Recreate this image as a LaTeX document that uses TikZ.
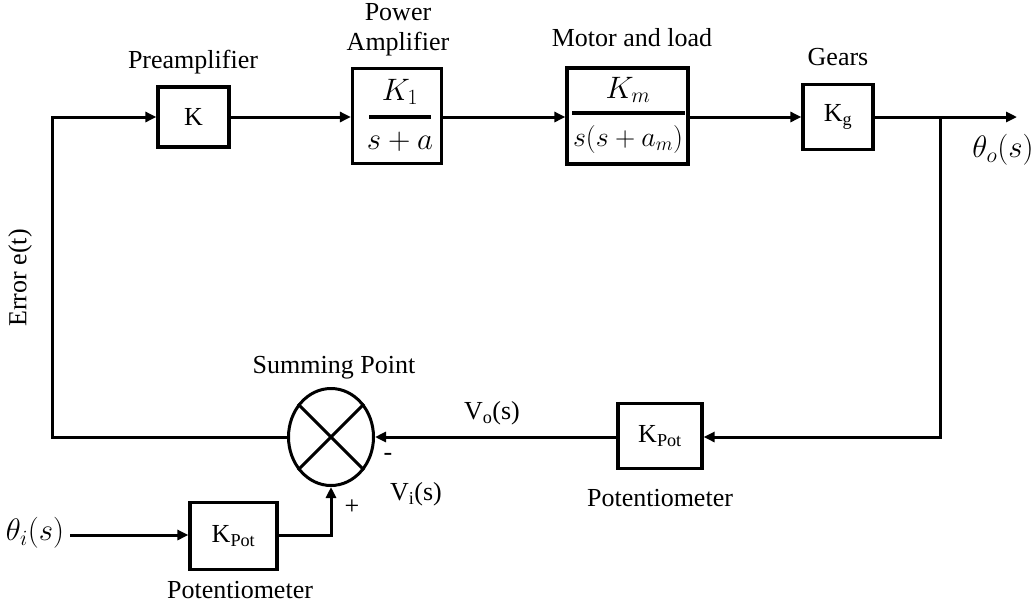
\RequirePackage{fix-cm}
\documentclass[tikz,border=0pt]{standalone}
\usepackage{fontspec}
\setmainfont{Liberation Serif}
\usetikzlibrary{arrows.meta,shapes.geometric}
\begin{document}
\begin{tikzpicture}[x=1pt,y=-1pt,
  every node/.style={font=\fontsize{26}{30}\selectfont, inner sep=0pt},
  mth/.style={font=\fontsize{31}{36}\selectfont},
  mths/.style={font=\fontsize{28}{33}\selectfont},
  blk/.style={draw, line width=3.2pt, minimum width=#1},
  lbl/.style={anchor=center},
  wire/.style={line width=3pt},
  arr/.style={wire, -{Triangle[length=11pt,width=10pt]}},
  frule/.style={line width=3.4pt}
]
\useasboundingbox (0,0) rectangle (1036,606);

% top blocks
\node[blk=71pt, minimum height=60pt] (pre) at (193.5,117) {K};
\node[blk=89pt, minimum height=95pt] (pow) at (397,116) {};
\node[blk=121pt, minimum height=96pt] (mot) at (627.5,116) {};
\node[blk=70pt, minimum height=65pt] (gear) at (838,117) {K\textsubscript{g}};

% fractions
\node[mth] (pownum) at (400,92) {$K_1$};
\draw[frule] (369,117) -- (431,117);
\node[mth] (powden) at (400,142) {$s+a$};
\node[mth] (motnum) at (628,90) {$K_m$};
\draw[frule] (572,113) -- (685,113);
\node[mths] (motden) at (628,139) {$s(s+a_m)$};

% feedback and input blocks
\node[blk=84pt, minimum height=65pt] (kfb) at (660,436) {K\textsubscript{Pot}};
\node[blk=87pt, minimum height=67pt] (kin) at (233.5,536) {K\textsubscript{Pot}};
\node[draw, ellipse, line width=3pt, minimum width=85pt, minimum height=97pt] (sum) at (331,437) {};
\draw[wire] (sum.45) -- (sum.225);
\draw[wire] (sum.135) -- (sum.315);

% coordinates
\coordinate (out) at (1017,117);
\coordinate (br) at (940,117);
\coordinate (brd) at (940,437);
\coordinate (el) at (52,437);
\coordinate (eu) at (52,117);
\coordinate (tin) at (70,535);
\coordinate (up) at (331,535);

% connectors
\draw[arr] (pre.east) -- (pre.east -| pow.west);
\draw[arr] (pow.east |- pre.east) -- (pow.east |- pre.east -| mot.west);
\draw[arr] (mot.east |- gear.west) -- (gear.west);
\draw[arr] (gear.east) -- (out);
\draw[arr] (br) -- (brd) -- (brd -| kfb.east);
\draw[arr] (kfb.west |- sum.east) -- (sum.east);
\draw[arr] (sum.west) -- (el) -- (eu) -- (eu -| pre.west);
\draw[arr] (tin) -- (tin -| kin.west);
\draw[arr] (kin.east |- up) -- (up) -- (sum.south);

% labels
\node[lbl] (lpre) at (193,62) {Preamplifier};
\node[lbl, align=center] (lpow) at (398,30) {Power\\Amplifier};
\node[lbl] (lmot) at (632,38) {Motor and load};
\node[lbl] (lgear) at (838,57) {Gears};
\node[lbl] (lsum) at (334,368) {Summing Point};
\node[lbl] (lvo) at (492,413) {V\textsubscript{o}(s)};
\node[lbl] (lminus) at (388,457) {-};
\node[lbl] (lvi) at (416,494) {V\textsubscript{i}(s)};
\node[lbl] (lplus) at (352,507) {+};
\node[lbl] (lpin) at (240,590) {Potentiometer};
\node[lbl] (lpfb) at (660,498) {Potentiometer};
\node[lbl, mth] (lout) at (1003,150) {$\theta_o(s)$};
\node[lbl, mth] (lin) at (35,533) {$\theta_i(s)$};
\node[lbl, rotate=90] (lerr) at (20,278) {Error e(t)};
\end{tikzpicture}
\end{document}
